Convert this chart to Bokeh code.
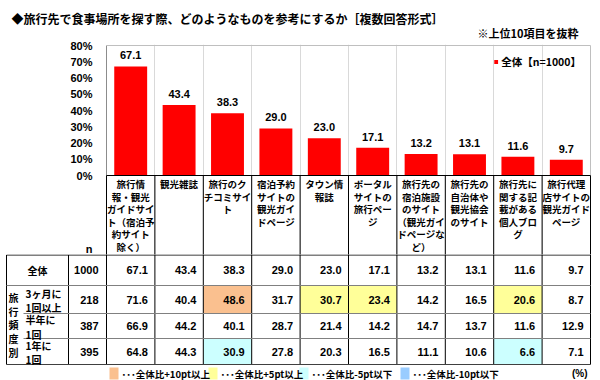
from bokeh.plotting import figure
from bokeh.models import (Range1d, FixedTicker, PrintfTickFormatter, Grid, ColumnDataSource,
                          Legend, LegendItem)
from bokeh.layouts import column
from bokeh.embed import file_html
from bokeh.resources import INLINE
from bokeh.core.properties import value

# ---------------- data ----------------
TITLE = "◆旅行先で食事場所を探す際、どのようなものを参考にするか［複数回答形式］"
NOTE = "※上位10項目を抜粋"
SERIES_NAME = "全体【n=1000】"
CATEGORIES = [
    "旅行情\n報・観光\nガイドサイ\nト（宿泊予\n約サイト\n除く）",
    "観光雑誌",
    "旅行のク\nチコミサイ\nト",
    "宿泊予約\nサイトの\n観光ガイ\nドページ",
    "タウン情\n報誌",
    "ポータル\nサイトの\n旅行ペー\nジ",
    "旅行先の\n宿泊施設\nのサイト\n（観光ガイ\nドページな\nど）",
    "旅行先の\n自治体や\n観光協会\nのサイト",
    "旅行先に\n関する記\n載がある\n個人ブロ\nグ",
    "旅行代理\n店サイトの\n観光ガイド\nページ",
]
OVERALL = [67.1, 43.4, 38.3, 29.0, 23.0, 17.1, 13.2, 13.1, 11.6, 9.7]
N_HEADER = "n"
TOTAL_LABEL = "全体"
TOTAL_N = 1000
GROUP_TITLE = "旅行頻度別"
GROUPS = ["3ヶ月に\n1回以上", "半年に\n1回", "1年に\n1回"]
GROUP_N = [218, 387, 395]
FREQ_3M = [71.6, 40.4, 48.6, 31.7, 30.7, 23.4, 14.2, 16.5, 20.6, 8.7]
FREQ_6M = [66.9, 44.2, 40.1, 28.7, 21.4, 14.2, 14.7, 13.7, 11.6, 12.9]
FREQ_1Y = [64.8, 44.3, 30.9, 27.8, 20.3, 16.5, 11.1, 10.6, 6.6, 7.1]
Y_TICKS = [0, 10, 20, 30, 40, 50, 60, 70, 80]
KEY_LABELS = ["･･･全体比+10pt以上", "･･･全体比+5pt以上", "･･･全体比-5pt以下", "･･･全体比-10pt以下"]
UNIT_LABEL = "(%)"

# ---------------- style / layout ----------------
RED = "#FF0000"
C_P10, C_P5, C_M5, C_M10 = "#FAC08F", "#FFFF99", "#CCFFFF", "#99CCFF"
KEY_COLORS = [C_P10, C_P5, C_M5, C_M10]
JP = value("Noto Sans CJK JP")
NUM = value("Liberation Sans")

PX_PER_PCT = 1.625   # pixels per percent point
COL_W = 48.4         # pixels per category column
X_LEFT = 106         # page x of first category column
Y_ZERO = 175         # page y of 0 %
SPLIT = 254          # page y where the chart canvas ends and the table canvas begins
HEAD_LINE0 = 183.5   # page y of first header text line
HEAD_PITCH = 12.6    # header line spacing


def ux(px):
    return (px - X_LEFT) / COL_W


def pct(py):
    return (Y_ZERO - py) / PX_PER_PCT


def bare(fig):
    fig.outline_line_color = None
    fig.grid.visible = False
    return fig


# ================= heading =================
pt = bare(figure(width=600, height=40, output_backend="svg", toolbar_location=None,
                 x_range=Range1d(0, 600), y_range=Range1d(40, 0),
                 x_axis_type=None, y_axis_type=None, min_border_left=0, min_border_right=0,
                 min_border_top=0, min_border_bottom=0, frame_align=False))
pt.text(x=[11], y=[18], text=[TITLE], text_align="left", text_baseline="middle",
        text_font=JP, text_font_style="bold", text_font_size="12px", text_color="#000000")
pt.text(x=[578], y=[32], text=[NOTE], text_align="right", text_baseline="middle",
        text_font=JP, text_font_style="bold", text_font_size="11px", text_color="#000000")

# ================= chart + table header =================
pa = figure(width=600, height=SPLIT - 40, output_backend="svg", toolbar_location=None,
            x_range=Range1d(ux(105), ux(591)), y_range=Range1d(pct(SPLIT), pct(44)),
            x_axis_type=None, min_border_left=105, min_border_right=9,
            min_border_top=4, min_border_bottom=0, frame_align=False)
pa.outline_line_color = None
pa.ygrid.visible = False
n_tick = round(pct(249), 1)
ax = pa.yaxis[0]
ax.ticker = FixedTicker(ticks=Y_TICKS + [n_tick])
ax.formatter = PrintfTickFormatter(format="%d%%")
ax.major_label_overrides = {n_tick: N_HEADER}
ax.axis_line_color = None
ax.major_tick_line_color = None
ax.minor_tick_line_color = None
ax.major_label_standoff = 7
ax.major_label_text_font = "Liberation Sans"
ax.major_label_text_font_style = "bold"
ax.major_label_text_font_size = "11px"
ax.major_label_text_color = "#000000"

pa.add_layout(Grid(dimension=0, ticker=FixedTicker(ticks=list(range(1, len(OVERALL)))),
                   grid_line_color="#d9d9d9"))

n = len(OVERALL)
xs = [i + 0.5 for i in range(n)]
src = ColumnDataSource(dict(x=xs, top=OVERALL, lab=[f"{v:.1f}" for v in OVERALL]))
bars = pa.vbar(x="x", top="top", width=0.68, source=src, fill_color=RED, line_color=None)
pa.text(x="x", y="top", text="lab", source=src, text_align="center", text_baseline="bottom",
        y_offset=-7, text_font=NUM, text_font_style="bold", text_font_size="11px",
        text_color="#000000")

# plot frame borders
pa.segment(x0=[0, 0, n], y0=[0, 80, 0], x1=[0, n, n], y1=[80, 80, 80],
           line_color=["#8c8c8c", "#bfbfbf", "#bfbfbf"], line_width=1)
# table top + column lines of the header row
pa.segment(x0=[0], y0=[0], x1=[n], y1=[0], line_color="#000000", line_width=1)
pa.segment(x0=list(range(n + 1)), y0=[0] * (n + 1), x1=list(range(n + 1)),
           y1=[pct(SPLIT + 1)] * (n + 1), line_color="#000000", line_width=1)
# category labels, one glyph per wrapped line
hx, hy, ht = [], [], []
for i, cat in enumerate(CATEGORIES):
    for k, line in enumerate(cat.split("\n")):
        hx.append(i + 0.5); hy.append(pct(HEAD_LINE0 + HEAD_PITCH * k)); ht.append(line)
pa.text(x=hx, y=hy, text=ht, text_align="center", text_baseline="middle",
        text_font=JP, text_font_style="bold", text_font_size="9.5px", text_color="#000000")

leg = Legend(items=[LegendItem(label=SERIES_NAME, renderers=[bars])], location="top_right",
             margin=10, padding=0, border_line_color=None, background_fill_alpha=0,
             glyph_width=5, glyph_height=5, label_height=12, label_standoff=3,
             label_text_font="Noto Sans CJK JP", label_text_font_style="bold",
             label_text_font_size="10.5px", label_text_color="#000000")
pa.add_layout(leg)

# ================= table body =================
pb = bare(figure(width=600, height=380 - SPLIT, output_backend="svg", toolbar_location=None,
                 x_range=Range1d(ux(0), ux(600)), y_range=Range1d(380, SPLIT),
                 x_axis_type=None, y_axis_type=None, min_border_left=0, min_border_right=0,
                 min_border_top=0, min_border_bottom=0, frame_align=False))

ROW_EDGES = [254.5, 285, 313, 338, 364]
LEFT_EDGE = 6
N_COL_LEFT = 68
SUB_LEFT = 23

rows = [OVERALL, FREQ_3M, FREQ_6M, FREQ_1Y]
ns = [TOTAL_N] + GROUP_N


def band(diff):
    d = round(diff, 1)
    if d >= 10:
        return C_P10
    if d >= 5:
        return C_P5
    if d <= -10:
        return C_M10
    if d <= -5:
        return C_M5
    return None


fl, fr, ft, fb, fc = [], [], [], [], []
for r in range(1, 4):
    for i in range(n):
        c = band(rows[r][i] - OVERALL[i])
        if c:
            fl.append(i); fr.append(i + 1)
            ft.append(ROW_EDGES[r]); fb.append(ROW_EDGES[r + 1]); fc.append(c)
pb.quad(left=fl, right=fr, top=ft, bottom=fb, fill_color=fc, line_color=None)

# grid lines
vx = list(range(n + 1))
pb.segment(x0=vx, y0=[SPLIT - 1] * len(vx), x1=vx, y1=[ROW_EDGES[-1]] * len(vx),
           line_color="#000000", line_width=1)
pb.segment(x0=[ux(LEFT_EDGE), ux(N_COL_LEFT)], y0=[ROW_EDGES[0]] * 2,
           x1=[ux(LEFT_EDGE), ux(N_COL_LEFT)], y1=[ROW_EDGES[-1]] * 2,
           line_color="#000000", line_width=1)
hx0 = [ux(LEFT_EDGE), ux(LEFT_EDGE), ux(SUB_LEFT), ux(SUB_LEFT), ux(LEFT_EDGE)]
hcol = ["#000000", "#808080", "#808080", "#808080", "#404040"]
pb.segment(x0=hx0, y0=ROW_EDGES, x1=[n] * 5, y1=ROW_EDGES, line_color=hcol, line_width=1)

# row labels
centers = [(ROW_EDGES[k] + ROW_EDGES[k + 1]) / 2 for k in range(4)]
pb.text(x=[ux((LEFT_EDGE + N_COL_LEFT) / 2)], y=[centers[0]], text=[TOTAL_LABEL],
        text_align="center", text_baseline="middle", text_font=JP, text_font_style="bold",
        text_font_size="10px", text_color="#000000")
pb.text(x=[ux(25)] * 3, y=centers[1:], text=GROUPS, text_align="left", text_baseline="middle",
        y_offset=1, text_line_height=0.94, text_font=JP, text_font_style="bold",
        text_font_size="10px", text_color="#000000")
pb.text(x=[ux(13)], y=[(ROW_EDGES[1] + ROW_EDGES[4]) / 2], text=["\n".join(GROUP_TITLE)],
        text_align="center", text_baseline="middle", text_line_height=0.92, text_font=JP,
        text_font_style="bold", text_font_size="10px", text_color="#000000")

# n column
pb.text(x=[ux(98)] * 4, y=centers, text=[str(v) for v in ns], text_align="right",
        text_baseline="middle", text_font=NUM, text_font_style="bold", text_font_size="11px",
        text_color="#000000")

# values
tx, ty, tt = [], [], []
for r in range(4):
    for i in range(n):
        tx.append(i + 1 - 7 / COL_W); ty.append(centers[r]); tt.append(f"{rows[r][i]:.1f}")
pb.text(x=tx, y=ty, text=tt, text_align="right", text_baseline="middle", text_font=NUM,
        text_font_style="bold", text_font_size="11px", text_color="#000000")

# key
KEY_X = [109, 208, 299, 400]
pb.quad(left=[ux(k) for k in KEY_X], right=[ux(k + 9) for k in KEY_X], top=[367] * 4,
        bottom=[379] * 4, fill_color=KEY_COLORS, line_color=None)
pb.text(x=[ux(k + 12) for k in KEY_X], y=[373] * 4, text=KEY_LABELS, text_align="left",
        text_baseline="middle", text_font=JP, text_font_style="bold", text_font_size="9.5px",
        text_color="#000000")
pb.text(x=[ux(587)], y=[373], text=[UNIT_LABEL], text_align="right", text_baseline="middle",
        text_font=NUM, text_font_style="bold", text_font_size="10px", text_color="#000000")

layout = column(pt, pa, pb, spacing=0)
with open("out.html", "w") as f:
    f.write(file_html(layout, INLINE))
